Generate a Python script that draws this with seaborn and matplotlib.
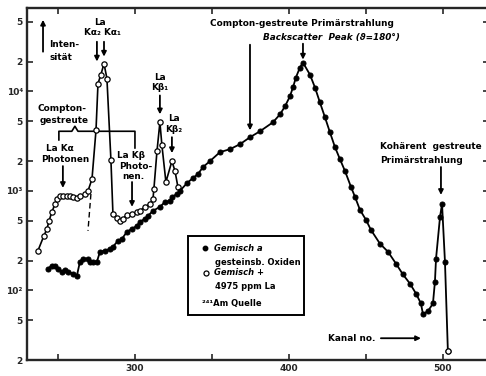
import matplotlib
matplotlib.use("Agg")
import matplotlib.pyplot as plt
import numpy as np
import pandas as pd
import seaborn as sns
from matplotlib.patches import Rectangle
from matplotlib.ticker import NullLocator

# ---- spectrum: mixture of rock-forming oxides (filled circles) ----
oxide_ch = [243.5, 246.1, 248.1, 250.0, 252.6, 254.5, 256.5, 259.7, 262.3,
            264.3, 266.2, 269.5, 270.8, 272.7, 275.3,
            277.3, 280.5, 283.8, 285.7, 289.0, 291.6, 294.8, 298.1, 301.3,
            303.2, 306.5, 308.4, 311.7, 316.2, 319.5, 322.7, 324.0, 327.3,
            329.2, 333.8, 337.7, 340.9, 344.2, 348.7, 355.2, 361.7, 368.2,
            374.7, 381.2, 389.6, 394.2, 397.4, 400.6, 402.6, 404.5, 407.1,
            409.1, 413.6, 416.9, 420.1, 423.4, 426.6, 429.9, 433.1, 436.4,
            440.3, 442.9, 446.1, 450.0, 453.2, 459.1, 464.3, 469.5, 474.0,
            478.6, 482.5, 485.7, 487.0, 490.3, 493.5, 494.8, 495.5, 498.1,
            499.4, 501.3, 503.2]
oxide_counts = [166, 178, 178, 166, 155, 162, 155, 148, 141,
                195, 209, 209, 195, 191, 195,
                245, 251, 263, 275, 316, 331, 389, 417, 447,
                490, 525, 562, 631, 692, 776, 794, 871, 933,
                1000, 1200, 1350, 1479, 1738, 1995, 2455, 2630, 2951,
                3467, 3981, 4898, 5888, 7079, 8913, 10965, 13800, 17380,
                19500, 14790, 10960, 7762, 5495, 3890, 2754, 2089, 1585,
                1096, 871, 646, 513, 407, 295, 245, 186, 145,
                117, 93, 74, 58, 62, 74, 123, 209, 550,
                741, 195, 24.5]

# ---- spectrum: mixture + 4975 ppm La (open circles) ----
la_ch = [237.0, 240.9, 242.9, 244.2, 246.1, 248.1, 249.4, 251.3, 253.2,
         255.8, 257.8, 259.7, 262.3, 264.3, 267.5, 269.5, 272.1, 274.7,
         276.0, 277.9, 279.9, 281.8, 284.4, 285.7, 288.3, 290.3, 292.2,
         294.8, 298.1, 301.3, 303.2, 306.5, 309.7, 311.7, 312.3, 314.3,
         316.2, 317.5, 320.1, 324.0, 326.0, 327.9]
la_counts = [251, 355, 417, 501, 617, 741, 832, 891, 891,
             891, 891, 871, 851, 891, 933, 1000, 1318, 4074,
             12020, 14790, 19050, 13490, 2042, 589, 537, 501, 525,
             575, 589, 617, 631, 692, 741, 832, 1047, 2512,
             4898, 2884, 1230, 1995, 1585, 1096]

# dashed flank of the La K-alpha line
dash_ch = [271.4, 269.5]
dash_counts = [933, 398]

# axis ticks
x_ticks = [250, 300, 350, 400, 450, 500]
x_labels = ["", "300", "", "400", "", "500"]
y_ticks = [20, 50, 100, 200, 500, 1000, 2000, 5000, 10000, 20000, 50000]
y_labels = ["2", "5", "10²", "2", "5", "10³", "2", "5", "10⁴", "2", "5"]

sns.set_style("ticks")
plt.rcParams["font.family"] = ["DejaVu Sans"]
plt.rcParams["font.weight"] = "bold"

fig = plt.figure(figsize=(4.86, 3.76), dpi=100)
ax = fig.add_axes([27 / 486, 16 / 376, 462 / 486, 352 / 376])

df_ox = pd.DataFrame({"Kanal": oxide_ch, "Impulse": oxide_counts})
df_la = pd.DataFrame({"Kanal": la_ch, "Impulse": la_counts})

sns.lineplot(data=df_la, x="Kanal", y="Impulse", ax=ax, color="black",
             lw=1.2, marker="o", markersize=3.8, markerfacecolor="white",
             markeredgecolor="black", markeredgewidth=0.9,
             estimator=None, sort=False, zorder=3)
sns.lineplot(data=df_ox, x="Kanal", y="Impulse", ax=ax, color="black",
             lw=1.3, marker="o", markersize=3.6, markerfacecolor="black",
             markeredgecolor="black", estimator=None, sort=False, zorder=4)
# last channel of the spectrum drawn as an open circle
ax.plot(oxide_ch[-1], oxide_counts[-1], "o", ms=3.8, mfc="white",
        mec="black", mew=0.9, zorder=5)
ax.plot(dash_ch, dash_counts, color="black", lw=1.0, ls=(0, (4, 2.5)))

ax.set_yscale("log")
ax.set_xlim(229.9, 529.9)
ax.set_ylim(20, 69000)
ax.set_xticks(x_ticks)
ax.set_xticklabels(x_labels)
ax.set_yticks(y_ticks)
ax.set_yticklabels(y_labels)
ax.yaxis.set_minor_locator(NullLocator())
ax.xaxis.set_minor_locator(NullLocator())
ax.set_xlabel("")
ax.set_ylabel("")
ax.tick_params(which="major", direction="in", length=4, width=1.2,
               top=True, right=True, labelsize=6.5, pad=3)
for lab in ax.get_xticklabels() + ax.get_yticklabels():
    lab.set_fontweight("bold")
for side in ["left", "bottom", "top"]:
    ax.spines[side].set_linewidth(1.7)
    ax.spines[side].set_visible(True)
ax.spines["right"].set_visible(False)

txt = dict(fontsize=6.4, fontweight="bold", color="black")
arrow = dict(arrowstyle="-|>", lw=1.3, color="black", mutation_scale=7,
             shrinkA=0, shrinkB=0)


def pointer(x, y_from, y_to):
    ax.annotate("", xy=(x, y_to), xytext=(x, y_from), arrowprops=arrow)


# intensity arrow
pointer(240.3, 25100, 52500)
ax.text(244.2, 29500, "Inten-", ha="left", va="center", **txt)
ax.text(244.8, 21900, "sität", ha="left", va="center", **txt)

# La K-alpha lines
ax.text(277.3, 49000, "La", ha="center", va="center", **txt)
ax.text(278.6, 38900, "Kα₂ Kα₁", ha="center", va="center", **txt)
pointer(275.3, 31600, 20000)
pointer(279.9, 31600, 22400)

# Compton-scattered La photons
ax.text(237.0, 6760, "Compton-", ha="left", va="center", **txt)
ax.text(238.3, 5130, "gestreute", ha="left", va="center", **txt)
ax.plot([250.6, 250.6, 259.0, 261.0, 263.0, 300.0, 300.0],
        [3240, 3980, 3980, 4470, 3980, 3980, 2690], color="black", lw=1.2)
ax.text(251.3, 2690, "La Kα", ha="center", va="center", **txt)
ax.text(254.5, 2090, "Photonen", ha="center", va="center", **txt)
pointer(253.2, 1778, 1072)
ax.text(288.3, 2290, "La Kβ", ha="left", va="center", **txt)
ax.text(290.0, 1778, "Photo-", ha="left", va="center", **txt)
ax.text(292.0, 1413, "nen.", ha="left", va="center", **txt)
pointer(298.1, 1230, 692)

# La K-beta lines
ax.text(316.2, 13800, "La", ha="center", va="center", **txt)
ax.text(316.2, 10960, "Kβ₁", ha="center", va="center", **txt)
pointer(316.2, 9120, 5890)
ax.text(325.3, 5370, "La", ha="center", va="center", **txt)
ax.text(325.3, 4170, "Kβ₂", ha="center", va="center", **txt)
pointer(324.0, 3470, 2400)

# Compton backscatter peak of the primary radiation
ax.text(408.4, 47900, "Compton-gestreute Primärstrahlung", ha="center",
        va="center", **txt)
ax.text(427.3, 34700, "Backscatter  Peak (ϑ=180°)", ha="center",
        va="center", style="italic", **txt)
pointer(409.1, 30200, 20900)
pointer(374.7, 29500, 4070)

# coherently scattered primary radiation
ax.text(459.1, 2820, "Kohärent  gestreute", ha="left", va="center", **txt)
ax.text(459.1, 2040, "Primärstrahlung", ha="left", va="center", **txt)
pointer(498.7, 1740, 912)

# channel axis hint
ax.text(425.3, 33.1, "Kanal no.", ha="left", va="center", **txt)
ax.annotate("", xy=(485.7, 33.1), xytext=(459.7, 33.1), arrowprops=arrow)

# legend box
ax.add_patch(Rectangle((0.3477, 0.1278), 0.2527, 0.2245, transform=ax.transAxes,
                       fill=False, lw=1.4, ec="black", zorder=6))
ax.plot([0.3844], [0.3182], "o", ms=3.2, color="black", transform=ax.transAxes)
ax.plot([0.3866], [0.2472], "o", ms=3.6, mfc="white", mec="black", mew=0.9,
        transform=ax.transAxes)
leg = dict(transform=ax.transAxes, ha="left", va="center", fontsize=6.0,
           fontweight="bold", color="black")
ax.text(0.404, 0.318, "Gemisch a", style="italic", **leg)
ax.text(0.406, 0.2784, "gesteinsb. Oxiden", **leg)
ax.text(0.404, 0.2472, "Gemisch +", style="italic", **leg)
ax.text(0.406, 0.2102, "4975 ppm La", **leg)
ax.text(0.378, 0.1619, "²⁴¹Am Quelle", **leg)

fig.savefig("out.png", dpi=100)
